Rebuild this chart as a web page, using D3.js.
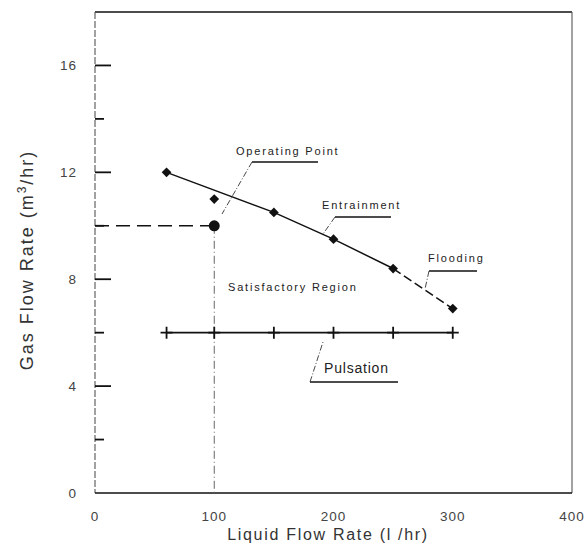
<!DOCTYPE html>
<html>
<head>
<meta charset="utf-8">
<script src="https://cdn.jsdelivr.net/npm/d3@7"></script>
<style>
body { margin:0; background:#fff; }
svg { font-family: "Liberation Sans", Arial, sans-serif; }
.axisTitle { fill:#333; }
.tickLabel { fill:#444; font-size:13.5px; letter-spacing:1px; }
.note { fill:#222; font-size:11px; letter-spacing:1.8px; }
</style>
</head>
<body>
<script>
const w = 584;
const h = 550;
const margin = {left:95,right:12,top:12,bottom:57};
const innerW = w-(margin.left+margin.right);
const innerH = h-(margin.top+margin.bottom);

// data
const xTicks = [0, 100, 200, 300, 400];
const yMajor = [0, 4, 8, 12, 16];
const yMinor = [2, 6, 10, 14];
const entrainX = [60, 100, 150, 200, 250, 300];
const entrainY = [12, 11, 10.5, 9.5, 8.4, 6.9];
const trendSolid = [[60, 12], [150, 10.5], [200, 9.5], [250, 8.4]];
const trendDashed = [[250, 8.4], [300, 6.9]];
const pulseX = [60, 100, 150, 200, 250, 300];
const pulseY = [6, 6, 6, 6, 6, 6];
const operating = {x:100, y:10};

const x = d3.scaleLinear().domain([0,400]).range([0,innerW]);
const y = d3.scaleLinear().domain([0,18]).range([innerH,0]);

const svg = d3.select("body").append("svg")
    .attr("width", w)
    .attr("height", h);
const g = svg.append("g")
    .attr("transform","translate("+margin.left+","+margin.top+")");

//frame
g.append("line").attr("x1",0).attr("x2",innerW).attr("y1",0).attr("y2",0)
    .attr("stroke","#111").attr("stroke-width",1.6);
g.append("line").attr("x1",innerW).attr("x2",innerW).attr("y1",0).attr("y2",innerH)
    .attr("stroke","#555").attr("stroke-width",1.1);
g.append("line").attr("x1",0).attr("x2",0).attr("y1",0).attr("y2",innerH)
    .attr("stroke","#555").attr("stroke-width",1.1).attr("stroke-dasharray","7,2");
g.append("line").attr("x1",0).attr("x2",innerW).attr("y1",innerH).attr("y2",innerH)
    .attr("stroke","#111").attr("stroke-width",1.6);

//y ticks, drawn inward
g.selectAll(".major").data(yMajor.filter(d => d > 0)).enter().append("line")
    .attr("x1",0).attr("x2",16)
    .attr("y1",d => y(d)).attr("y2",d => y(d))
    .attr("stroke","#111").attr("stroke-width",1.8);
g.selectAll(".minor").data(yMinor).enter().append("line")
    .attr("x1",0).attr("x2",9)
    .attr("y1",d => y(d)).attr("y2",d => y(d))
    .attr("stroke","#111").attr("stroke-width",1.8);
g.selectAll(".ylab").data(yMajor).enter().append("text")
    .attr("class","tickLabel")
    .attr("x",-18).attr("y",d => y(d)+5)
    .attr("text-anchor","end")
    .text(d => d);
g.selectAll(".xlab").data(xTicks).enter().append("text")
    .attr("class","tickLabel")
    .attr("x",d => x(d)).attr("y",innerH+28)
    .attr("text-anchor","middle")
    .text(d => d);

//axis titles
svg.append("text").attr("class","axisTitle")
    .attr("x",328).attr("y",540)
    .attr("text-anchor","middle")
    .style("font-size","16px").style("letter-spacing","1.7px")
    .text("Liquid Flow Rate (l /hr)");
svg.append("text").attr("class","axisTitle")
    .attr("transform","translate(33,260) rotate(-90)")
    .attr("text-anchor","middle")
    .style("font-size","18px").style("letter-spacing","2px")
    .html('Gas Flow Rate (m<tspan dy="-7" font-size="12">3</tspan><tspan dy="7">/hr)</tspan>');

//operating point guides
g.append("line")
    .attr("x1",0).attr("x2",x(operating.x))
    .attr("y1",y(operating.y)).attr("y2",y(operating.y))
    .attr("stroke","#111").attr("stroke-width",1.6).attr("stroke-dasharray","14,7");
g.append("line")
    .attr("x1",x(operating.x)).attr("x2",x(operating.x))
    .attr("y1",y(operating.y)).attr("y2",innerH)
    .attr("stroke","#666").attr("stroke-width",1).attr("stroke-dasharray","8,3,1,3");

//entrainment / flooding line
const line = d3.line().x(d => x(d[0])).y(d => y(d[1]));
g.append("path").datum(trendSolid).attr("d",line)
    .attr("fill","none").attr("stroke","#111").attr("stroke-width",1.5);
g.append("path").datum(trendDashed).attr("d",line)
    .attr("fill","none").attr("stroke","#111").attr("stroke-width",1.5)
    .attr("stroke-dasharray","9,4");
g.selectAll(".diamond").data(entrainX).enter().append("path")
    .attr("transform",(d,i) => "translate("+x(d)+","+y(entrainY[i])+")")
    .attr("d",d3.symbol(d3.symbolDiamond2,60))
    .attr("fill","#111");

//pulsation line
g.append("path").datum(pulseX.map((d,i) => [d,pulseY[i]])).attr("d",line)
    .attr("fill","none").attr("stroke","#111").attr("stroke-width",1.6);
g.selectAll(".plus").data(pulseX).enter().append("path")
    .attr("transform",(d,i) => "translate("+x(d)+","+y(pulseY[i])+")")
    .attr("d","M-6,0H6M0,-6V6")
    .attr("stroke","#111").attr("stroke-width",1.8);

//operating point
g.append("circle")
    .attr("cx",x(operating.x)).attr("cy",y(operating.y)).attr("r",5.5)
    .attr("fill","#111");

//annotations: [text, text x, text y, underline x1, x2, y, leader end x, y]
const notes = [
    ["Operating Point", 236, 155, 252, 318, 162, 222, 214],
    ["Entrainment", 322, 209, 335, 391, 217, 323, 234],
    ["Flooding", 428, 262, 429, 477, 271, 425, 289],
    ["Pulsation", 324, 373, 310, 398, 382, 323, 342]
];
notes.forEach(n => {
    const t = svg.append("text").attr("class","note")
        .attr("x",n[1]).attr("y",n[2])
        .text(n[0]);
    if (n[0] === "Pulsation") t.style("font-size","14px").style("letter-spacing","0.8px");
    svg.append("line").attr("x1",n[3]).attr("x2",n[4]).attr("y1",n[5]).attr("y2",n[5])
        .attr("stroke","#111").attr("stroke-width",1.4);
    svg.append("line").attr("x1",n[3]).attr("x2",n[6]).attr("y1",n[5]).attr("y2",n[7])
        .attr("stroke","#333").attr("stroke-width",0.9).attr("stroke-dasharray","6,2,1,2");
});
svg.append("text").attr("class","note")
    .attr("x",228).attr("y",291)
    .text("Satisfactory Region");
</script>
</body>
</html>
